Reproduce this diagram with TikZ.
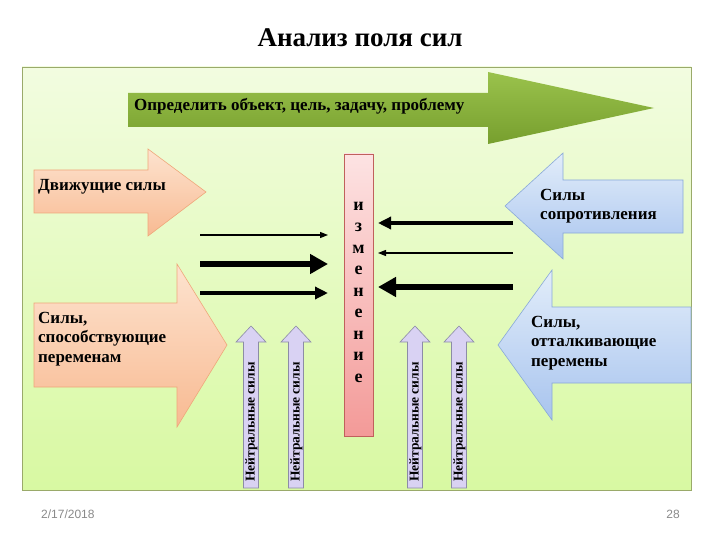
\documentclass[tikz,border=0pt]{standalone}
\usepackage{fontspec}
\setmainfont{Liberation Serif}
\setsansfont{Liberation Sans}
\usetikzlibrary{arrows.meta}
\definecolor{frameB}{HTML}{9AAA6A}
\definecolor{bgTop}{HTML}{F2FCE0}
\definecolor{bgBot}{HTML}{D8F9A2}
\definecolor{grTop}{HTML}{9AC24C}
\definecolor{grBot}{HTML}{779F2E}
\definecolor{orTop}{HTML}{FDE3CF}
\definecolor{orBot}{HTML}{F8BA92}
\definecolor{orLine}{HTML}{EFA77A}
\definecolor{blTop}{HTML}{E2EDFA}
\definecolor{blBot}{HTML}{A8C4EE}
\definecolor{blLine}{HTML}{89A9D8}
\definecolor{rdTop}{HTML}{FDE3E3}
\definecolor{rdBot}{HTML}{F39A98}
\definecolor{rdLine}{HTML}{C0605C}
\definecolor{nuFill}{HTML}{D9D2F3}
\definecolor{nuLine}{HTML}{8C8CA6}
\definecolor{dateGray}{HTML}{8A8A8A}
\begin{document}
\begin{tikzpicture}[x=1pt,y=-1pt,
  lbl/.style={font=\bfseries\fontsize{17}{19.5}\selectfont, align=left, inner sep=0pt, anchor=west, text=black},
  nlbl/.style={font=\bfseries\fontsize{13.5}{15}\selectfont, inner sep=0pt, rotate=90, text=black},
  orarrow/.style={top color=orTop, bottom color=orBot, draw=orLine, line width=0.6pt},
  blarrow/.style={top color=blTop, bottom color=blBot, draw=blLine, line width=0.6pt},
  nuarrow/.style={fill=nuFill, draw=nuLine, line width=0.6pt},
  thinA/.style={line width=1.2pt, -{Triangle[length=8pt,width=6pt]}},
  medA/.style={line width=3.8pt, -{Triangle[length=13pt,width=12pt]}},
  thickA/.style={line width=6.5pt, -{Triangle[length=18pt,width=19pt]}}
]
\useasboundingbox (0,0) rectangle (720,540);
\fill[white] (0,0) rectangle (720,540);

% title
\node[font=\bfseries\fontsize{27}{30}\selectfont, inner sep=0pt] (title) at (360,38) {Анализ поля сил};

% frame
\draw[frameB, line width=0.8pt, top color=bgTop, bottom color=bgBot] (22,67) rectangle (691,490);

% green arrow
\path[top color=grTop, bottom color=grBot]
  (128,93) -- (488,93) -- (488,72) -- (654,108) -- (488,144) -- (488,127) -- (128,127) -- cycle;
\node[lbl] (goal) at (134,106) {Определить объект, цель, задачу, проблему};

% orange arrows
\draw[orarrow] (34,170) -- (148,170) -- (148,149) -- (206,192) -- (148,236) -- (148,213) -- (34,213) -- cycle;
\node[lbl] (drive) at (38,187) {Движущие силы};
\draw[orarrow] (34,303) -- (177,303) -- (177,264) -- (227,345) -- (177,427) -- (177,387) -- (34,387) -- cycle;
\node[lbl, anchor=north west] (promote) at (38,312) {Силы,\\способствующие\\переменам};

% blue arrows
\draw[blarrow] (683,180) -- (563,180) -- (563,153) -- (505,206) -- (563,259) -- (563,233) -- (683,233) -- cycle;
\node[lbl, anchor=north west] (resist) at (540,189) {Силы\\сопротивления};
\draw[blarrow] (691,307) -- (552,307) -- (552,270) -- (498,345) -- (552,420) -- (552,383) -- (691,383) -- cycle;
\node[lbl, anchor=north west] (repel) at (531,316) {Силы,\\отталкивающие\\перемены};

% red bar
\draw[top color=rdTop, bottom color=rdBot, draw=rdLine, line width=0.6pt] (344,154) rectangle (373,436);
\node[font=\bfseries\fontsize{18}{21.5}\selectfont, align=center, inner sep=0pt, anchor=north] (change) at (358.5,202) {и\\з\\м\\е\\н\\е\\н\\и\\е};

% neutral arrows
\foreach \c/\n in {251/n1, 296/n2, 415/n3, 459/n4}{
  \draw[nuarrow] (\c-7.5,488) -- (\c-7.5,342) -- (\c-15,342) -- (\c,326) -- (\c+15,342) -- (\c+7.5,342) -- (\c+7.5,488) -- cycle;
  \node[nlbl] (\n) at (\c+0.5,422) {Нейтральные силы};
}

% left-to-right force arrows
\coordinate (r1s) at (200,235); \coordinate (r1e) at (328,235);
\coordinate (r2s) at (200,264); \coordinate (r2e) at (328,264);
\coordinate (r3s) at (200,293); \coordinate (r3e) at (328,293);
\draw[thinA] (r1s) -- (r1e);
\draw[thickA] (r2s) -- (r2e);
\draw[medA] (r3s) -- (r3e);

% right-to-left force arrows
\coordinate (l1s) at (513,223); \coordinate (l1e) at (378,223);
\coordinate (l2s) at (513,253); \coordinate (l2e) at (378,253);
\coordinate (l3s) at (513,287); \coordinate (l3e) at (378,287);
\draw[medA] (l1s) -- (l1e);
\draw[thinA] (l2s) -- (l2e);
\draw[thickA] (l3s) -- (l3e);

% footer
\node[font=\sffamily\fontsize{12}{14}\selectfont, text=dateGray, inner sep=0pt, anchor=west] (date) at (41,514) {2/17/2018};
\node[font=\sffamily\fontsize{12}{14}\selectfont, text=dateGray, inner sep=0pt] (page) at (673,514) {28};
\end{tikzpicture}
\end{document}
